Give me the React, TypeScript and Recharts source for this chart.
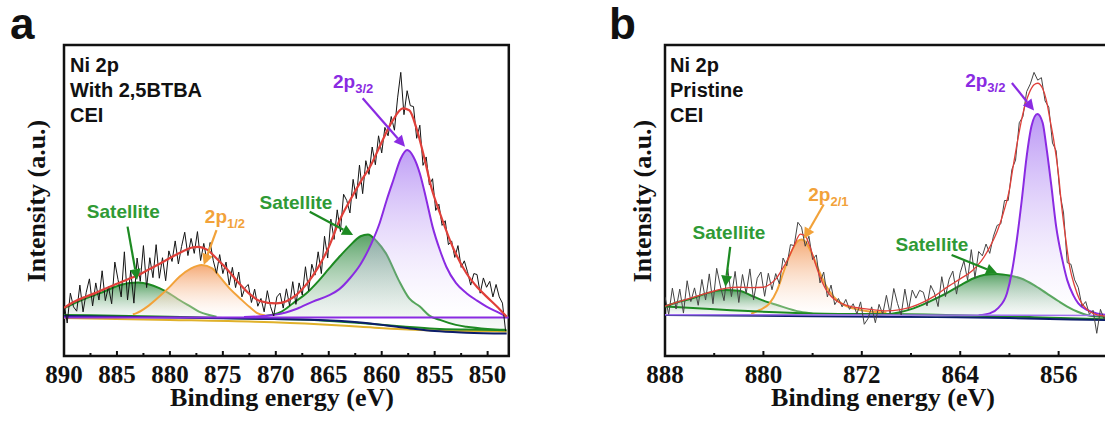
import React from "react";
import {
  ComposedChart,
  Line,
  Area,
  XAxis,
  YAxis,
  ReferenceLine,
  ReferenceDot,
  ReferenceArea,
} from "recharts";

const SANS = "'Liberation Sans', Arial, sans-serif";
const SERIF = "'Liberation Serif', 'Times New Roman', serif";
const RED = "#e0403a";
const PURPLE = "#8a2be2";
const GREEN = "#1d8a22";
const GREEN_TXT = "#2f9a35";
const ORANGE = "#f2a23a";
const NAVY = "#0c1d6b";
const YELLOW = "#e0b12a";

type Curve = [number, number][];

// ---------- panel a: with 2,5BTBA ----------
const rawAStart = 890;
const rawAStep = 0.3;
const rawAValues = [
  17, 10.6, 20.2, 15.8, 14.4, 22.8, 14.2, 20.5, 24.8, 16.1,
  23.5, 18, 27.4, 17.8, 22.3, 16.8, 30.2, 24.6, 19, 33.5,
  18, 27.5, 17, 31.5, 24, 35.5, 22, 31.6, 25.2, 35.8,
  25, 31.6, 24.2, 33.8, 30.4, 37, 29.6, 35.2, 39.8, 32.3,
  37.8, 33, 40, 30.7, 36.2, 30.5, 36.5, 30.6, 26.6, 32.6,
  26.5, 30.2, 22.8, 28.5, 22, 27, 19, 22, 23, 17.2,
  21.5, 16, 18.5, 14.2, 21, 15.9, 12.9, 19, 20.2, 15.4,
  21.6, 16.2, 23.9, 16.6, 23.5, 19.6, 28.7, 21, 29.5, 26,
  33.5, 26.5, 38.5, 31.5, 44, 37.5, 47, 40, 52, 50,
  46, 56.8, 50.6, 61.4, 52.2, 62.8, 58.4, 67.2, 61.5, 70.8,
  65.3, 73.5, 70.8, 77, 72.6, 83, 91.2, 77.6, 85.3, 80.5,
  80.2, 70, 74.2, 61.3, 64, 55, 57, 46.8, 48.8, 42,
  43.5, 35.8, 37, 31.7, 35.5, 28.5, 30.6, 27.1, 22.8, 26.5,
  26.2, 20.2, 25.1, 22.1, 24, 19, 23, 19, 17, 8,
];
const envelopeA: Curve = [
  [890, 15.5], [889, 17.5], [888, 19], [887, 20.3], [886, 21.8], [885, 23.2], [884, 24.6],
  [883, 26], [882, 27.8], [881, 29.6], [880, 31.5], [879, 33.3], [878, 34.8], [877.3, 35.1],
  [876.5, 34.2], [875.5, 31], [874.5, 27.5], [873.5, 23.5], [872.5, 20], [871.5, 17.7],
  [870, 16.9], [869, 17.6], [868, 19.8], [867, 23.5], [866, 28.5], [865, 35], [864, 43.5],
  [863, 50], [862, 56], [861, 61.5], [860.2, 67.3], [859, 75.5], [858, 79.6], [857.4, 79],
  [856.7, 73], [856, 64], [855.3, 54], [854.5, 45.9], [853.3, 35.1], [852, 26.6], [851, 22.2],
  [850.1, 19.1], [849, 15.5], [848.2, 12.6],
];
const p32A: Curve = [
  [873, 12.5], [870, 13.3], [868, 15.2], [866.5, 17.5], [865, 19.5], [864, 21.5], [863, 25],
  [862, 29.5], [861, 36], [860.2, 42.7], [859.5, 50.5], [858.9, 56.6], [858.2, 63.5],
  [857.6, 66.2], [857, 64], [856.4, 58.7], [855.8, 50.5], [855.2, 41.6], [854.5, 34],
  [853.9, 28.7], [853, 23.5], [852, 20.2], [851, 17.8], [850.1, 15.9], [849, 14], [848.3, 12.8],
];
const sat2A: Curve = [
  [871, 12.9], [869.5, 14.2], [868.4, 16.9], [867, 20.5], [865.9, 24.4], [865, 28], [864, 31.9],
  [863, 35.5], [862, 38.5], [861.3, 39.1], [860.5, 37], [859.6, 33], [858.4, 24.4],
  [857.4, 18.5], [856.4, 15.9], [855.5, 13], [854.5, 11.6], [853, 10], [852, 9.4], [850, 8.7],
  [848.3, 8.4],
];
const sat1A: Curve = [
  [890, 15.3], [889, 17], [888, 18.5], [886.6, 20.2], [885.5, 21.8], [884.7, 22.8], [883.8, 23.5],
  [883, 23.6], [882, 23.1], [881, 21.8], [880, 20], [879.1, 18], [878, 15.8], [877.2, 14.2],
  [876.3, 13.2], [875.6, 12.6],
];
const p12A: Curve = [
  [883.5, 13.4], [883.2, 13.7], [882, 16.2], [881, 19.1], [880, 22.3], [879.1, 25.5], [878, 28.2],
  [877, 29.3], [876, 28.2], [875.3, 25.5], [874.3, 21.5], [873.4, 18.6], [872.5, 15.8],
  [871.8, 13.9], [871, 13],
];
const flatA: Curve = [[890, 12.4], [848, 12.4]];
const navyA: Curve = [
  [890, 12.9], [880, 12.4], [872, 12], [866, 11.6], [862, 10.8], [858, 9.2], [855, 8],
  [852, 7.5], [848.2, 7.2],
];
const greenBaseA: Curve = [
  [890, 13.2], [880, 12.6], [872, 12], [866, 11.5], [862, 10.6], [858, 9.5], [855, 8.8],
  [852, 8.5], [848.2, 8.3],
];
const yellowBaseA: Curve = [
  [890, 12.2], [880, 11.6], [872, 11], [866, 10.2], [862, 9.4], [858, 8.6], [855, 8.2],
  [852, 8], [848.2, 7.9],
];
const majorsA = [890, 885, 880, 875, 870, 865, 860, 855, 850];
const minorsA = [887.5, 882.5, 877.5, 872.5, 867.5, 862.5, 857.5, 852.5];

// ---------- panel b: pristine ----------
const rawBStart = 888;
const rawBStep = 0.3;
const rawBValues = [
  19, 13.4, 21.8, 15.1, 21.5, 13.8, 24.2, 17.5, 21.9, 16.3,
  24.6, 18, 26.4, 16.8, 28.2, 22.5, 17.8, 28, 19.1, 27.2,
  17.2, 26.2, 20.1, 28, 18, 25, 27, 19.2, 26.6, 21.3,
  26.5, 23.2, 31.5, 29, 35.8, 35.5, 43, 41.4, 35.3, 38.5,
  31, 32.5, 23.5, 27, 19, 22.8, 16.5, 18.5, 15.8, 18.2,
  15, 16.8, 13.5, 17.4, 10.2, 12, 15.8, 10.7, 16.6, 13.5,
  19.5, 13.6, 21.7, 16.9, 13.2, 21.5, 14.8, 21.2, 18.6, 21.1,
  20.5, 16.1, 22.7, 20.3, 15.9, 25.5, 19.1, 24.7, 27.3, 19.9,
  26.8, 30.6, 24.4, 34.2, 25.2, 33.6, 32.2, 36, 33, 38.5,
  42, 42.5, 50, 50, 60, 63, 75, 77, 85, 87.5,
  91.2, 88.7, 89.5, 82, 80, 68.5, 66, 52.5, 46, 30,
  29.5, 24.5, 22, 16, 17.5, 13.4, 14.7, 7.3, 15, 11.8,
  13.8, 11, 14.6, 11.6, 13.5, 11.5,
];
const envelopeB: Curve = [
  [888, 16], [887, 17.3], [886, 18.5], [885, 19.7], [884, 20.9], [883, 21.8], [882, 22.1],
  [881, 22], [880, 22.1], [879.5, 23], [879, 24.7], [878.5, 27.7], [878, 31.2], [877.5, 35.5],
  [877, 39.2], [876.6, 38.6], [876.2, 35], [875.8, 30], [875.4, 25.5], [875, 22], [874.5, 19.2],
  [874, 17.6], [873, 16], [872, 15.3], [871, 14.8], [870, 14.5], [869, 14.8], [868, 15.7],
  [867, 17.3], [866, 19.5], [865, 22.3], [864, 24.8], [863, 27.5], [862.3, 30.5], [861.6, 35],
  [861, 40], [860.5, 45.9], [860, 53.5], [859.7, 60.9], [859.3, 70], [858.9, 78], [858.4, 84.5],
  [858, 87.2], [857.7, 87.7], [857.3, 86], [857, 82.3], [856.7, 76], [856.4, 69.5], [856, 58],
  [855.75, 48], [855.4, 37], [855.1, 28.7], [854.7, 22.5], [854.3, 18.2], [853.7, 15],
  [853.2, 13.7], [852.4, 12.9], [851, 12.6], [850, 12.5],
];
const p32B: Curve = [
  [862.5, 13.1], [861.6, 13.7], [860.9, 15.5], [860.2, 20.2], [859.8, 27], [859.4, 37.3],
  [859, 50], [858.6, 64.1], [858.2, 74], [857.73, 77.8], [857.3, 75], [857, 67.3], [856.6, 55],
  [856.2, 41.6], [855.7, 31], [855.3, 24.4], [854.8, 19.5], [854.4, 16.9], [853.7, 14.8],
  [852.9, 13.7], [852, 13.2], [850, 13],
];
const sat2B: Curve = [
  [871.5, 13.1], [870.5, 13.2], [869, 14], [867.8, 15.3], [866.5, 17.5], [865.1, 20.2],
  [864, 22.7], [862.9, 25], [862, 26.1], [861, 26.4], [860, 25.9], [859.1, 25], [858, 22.8],
  [857, 20.2], [856, 17.6], [855.3, 15.9], [854.5, 14.3], [853.7, 13.2], [852.4, 12.6],
  [850, 12.4],
];
const sat1B: Curve = [
  [888, 15.9], [887, 17.3], [885.7, 18.6], [884.5, 20.3], [883.5, 21.1], [883, 21.2],
  [882, 21], [880.8, 19.1], [880, 17.8], [878.9, 16.4], [877, 14.2], [876, 13.6],
];
const p21B: Curve = [
  [881, 13.6], [880.3, 14.8], [879.5, 16.9], [878.9, 21], [878.4, 26.6], [877.9, 32],
  [877.6, 34.6], [877.2, 37], [876.9, 37.5], [876.6, 36.8], [876.2, 34.1], [875.8, 30.5],
  [875.4, 26.6], [874.9, 22.5], [874.3, 19.1], [873.5, 16.5], [872.7, 15.3], [871.5, 14.4],
  [870, 14],
];
const flatB: Curve = [[888, 13.3], [850, 13.0]];
const navyB: Curve = [[888, 13.2], [876, 12.8], [866, 12.5], [860, 12.2], [855, 11.7], [850, 11.5]];
const greenBaseB: Curve = [[888, 15.9], [876, 13.7], [866, 13.3], [858, 12.5], [850, 11.5]];
const majorsB = [888, 880, 872, 864, 856];
const minorsB = [884, 876, 868, 860];

// annotations (binding energy, intensity)
const labelsA = [
  { text: "Satellite", e: 884.4, v: 44.4, color: GREEN_TXT },
  { text: "2p", sub: "1/2", e: 876.7, v: 42.7, color: ORANGE },
  { text: "Satellite", e: 868.1, v: 47.2, color: GREEN_TXT },
  { text: "2p", sub: "3/2", e: 864.6, v: 86.1, color: PURPLE },
];
const arrowsA = [
  { from: [884.0, 41.6], to: [883.1, 24.4], color: GREEN },
  { from: [875.6, 40.5], to: [876.8, 29.3], color: ORANGE },
  { from: [866.8, 46.4], to: [862.7, 38.9], color: GREEN },
  { from: [861.8, 82.9], to: [857.8, 67.3], color: PURPLE },
];
const labelsB = [
  { text: "Satellite", e: 882.8, v: 37.5, color: GREEN_TXT },
  { text: "2p", sub: "2/1", e: 876.35, v: 49.8, color: ORANGE },
  { text: "Satellite", e: 866.3, v: 33.9, color: GREEN_TXT },
  { text: "2p", sub: "3/2", e: 863.6, v: 86.6, color: PURPLE },
];
const arrowsB = [
  { from: [882.7, 35.1], to: [883.1, 22.3], color: GREEN },
  { from: [875.1, 48.7], to: [876.7, 37.7], color: ORANGE },
  { from: [864.7, 32.5], to: [861.0, 26.6], color: GREEN },
  { from: [859.8, 87.8], to: [858.0, 78.9], color: PURPLE },
];

const pts = (c: Curve) => c.map(([e, v]) => ({ e, v }));
const rawPts = (start: number, step: number, vals: number[]) =>
  vals.map((v, i) => ({ e: +(start - i * step).toFixed(2), v }));

const tickFont = { fontFamily: SERIF, fontWeight: 700, fontSize: 25 };

function XTick(props: any) {
  const { x, y, payload, majors } = props;
  const major = majors.includes(payload.value);
  return (
    <g>
      <line x1={x} y1={y} x2={x} y2={y - (major ? 5 : 3)} stroke="#111" strokeWidth={2} />
      {major && (
        <text x={x} y={y + 27} textAnchor="middle" fill="#111" style={tickFont}>
          {payload.value}
        </text>
      )}
    </g>
  );
}

const arrowShape = (color: string) => (p: any) => {
  const { x1, y1, x2, y2 } = p;
  const a = Math.atan2(y2 - y1, x2 - x1);
  const c = Math.cos(a);
  const s = Math.sin(a);
  const bx = x2 - 11 * c;
  const by = y2 - 11 * s;
  return (
    <g>
      <line x1={x1} y1={y1} x2={bx} y2={by} stroke={color} strokeWidth={2.2} />
      <polygon points={`${x2},${y2} ${bx + 5.5 * s},${by - 5.5 * c} ${bx - 5.5 * s},${by + 5.5 * c}`} fill={color} />
    </g>
  );
};

const labelShape = (lb: any) => (p: any) => (
  <text
    x={p.cx}
    y={p.cy}
    textAnchor={lb.sub ? "start" : "middle"}
    fill={lb.color}
    style={{ fontFamily: SANS, fontWeight: 700, fontSize: 19 }}
  >
    {lb.text}
    {lb.sub && (
      <tspan fontSize={13} dy={5}>
        {lb.sub}
      </tspan>
    )}
  </text>
);

function Panel(props: any) {
  const { id, width, margin, domain, majors, minors, raw, rawColor, redWidth, areas, lines, labels, arrows, box } = props;
  return (
    <ComposedChart width={width} height={423} margin={margin}>
      <defs>
        <linearGradient id={`pur-${id}`} x1="0" y1="0" x2="0" y2="1">
          <stop offset="0%" stopColor="#9a66f0" stopOpacity={0.85} />
          <stop offset="100%" stopColor="#ffffff" stopOpacity={0.3} />
        </linearGradient>
        <linearGradient id={`grn-${id}`} x1="0" y1="0" x2="0" y2="1">
          <stop offset="0%" stopColor="#2e8b3e" stopOpacity={0.8} />
          <stop offset="100%" stopColor="#eef2f2" stopOpacity={0.35} />
        </linearGradient>
        <linearGradient id={`org-${id}`} x1="0" y1="0" x2="0" y2="1">
          <stop offset="0%" stopColor="#f39a5c" stopOpacity={0.85} />
          <stop offset="100%" stopColor="#ffffff" stopOpacity={0.3} />
        </linearGradient>
      </defs>
      <XAxis
        dataKey="e"
        type="number"
        domain={domain}
        reversed
        allowDataOverflow
        ticks={[...majors, ...minors]}
        interval={0}
        tick={(p: any) => <XTick {...p} majors={majors} />}
        tickLine={false}
        axisLine={false}
        tickSize={0}
        tickMargin={0}
        height={40}
      />
      <YAxis type="number" domain={[0, 100]} hide allowDataOverflow />
      {areas.map((a: any, i: number) => (
        <Area
          key={`a${i}`}
          data={pts(a.data)}
          dataKey="v"
          type="monotone"
          baseValue={a.base}
          stroke={a.color}
          strokeWidth={2}
          fill={`url(#${a.grad}-${id})`}
          fillOpacity={a.opacity ?? 1}
          dot={false}
          activeDot={false}
          isAnimationActive={false}
        />
      ))}
      {lines.map((l: any, i: number) => (
        <Line
          key={`l${i}`}
          data={pts(l.data)}
          dataKey="v"
          type="monotone"
          stroke={l.color}
          strokeWidth={l.width ?? 2}
          dot={false}
          activeDot={false}
          isAnimationActive={false}
        />
      ))}
      <Line
        data={raw}
        dataKey="v"
        type="linear"
        stroke={rawColor}
        strokeWidth={1}
        dot={false}
        activeDot={false}
        isAnimationActive={false}
      />
      <Line
        data={pts(props.envelope)}
        dataKey="v"
        type="monotone"
        stroke={RED}
        strokeWidth={redWidth}
        dot={false}
        activeDot={false}
        isAnimationActive={false}
      />
      {arrows.map((ar: any, i: number) => (
        <ReferenceLine
          key={`r${i}`}
          segment={[{ x: ar.from[0], y: ar.from[1] }, { x: ar.to[0], y: ar.to[1] }]}
          shape={arrowShape(ar.color)}
          ifOverflow="visible"
        />
      ))}
      {labels.map((lb: any, i: number) => (
        <ReferenceDot key={`t${i}`} x={lb.e} y={lb.v} r={0} ifOverflow="visible" shape={labelShape(lb)} />
      ))}
      <ReferenceArea
        x1={box[0]}
        x2={box[1]}
        y1={0}
        y2={100}
        fill="none"
        fillOpacity={0}
        stroke="#111"
        strokeWidth={2.5}
        ifOverflow="visible"
      />
    </ComposedChart>
  );
}

export default function App() {
  const txt = { fontFamily: SANS, fontWeight: 700, fill: "#111" };
  const serif = { fontFamily: SERIF, fontWeight: 700, fontSize: 26 };
  return (
    <div style={{ position: "absolute", left: 0, top: 0, width: 1105, height: 423, overflow: "hidden", background: "#fff" }}>
      <div style={{ position: "absolute", left: 0, top: 0 }}>
        <Panel
          id="a"
          width={560}
          margin={{ top: 45, right: 51.2, bottom: 27, left: 64 }}
          domain={[848, 890]}
          box={[890, 848]}
          majors={majorsA}
          minors={minorsA}
          raw={rawPts(rawAStart, rawAStep, rawAValues)}
          rawColor="#151515"
          redWidth={2.2}
          envelope={envelopeA}
          areas={[
            { data: sat1A, color: GREEN, grad: "grn", base: 12.4 },
            { data: p12A, color: ORANGE, grad: "org", base: 12.4 },
            { data: sat2A, color: GREEN, grad: "grn", base: 12.4 },
            { data: p32A, color: PURPLE, grad: "pur", base: 12.4, opacity: 0.75 },
          ]}
          lines={[
            { data: yellowBaseA, color: YELLOW, width: 2 },
            { data: greenBaseA, color: GREEN, width: 2 },
            { data: navyA, color: NAVY, width: 2 },
            { data: flatA, color: PURPLE, width: 2 },
          ]}
          labels={labelsA}
          arrows={arrowsA}
        />
      </div>
      <div style={{ position: "absolute", left: 560, top: 0 }}>
        <Panel
          id="b"
          width={560}
          margin={{ top: 45, right: 13.4, bottom: 27, left: 105 }}
          domain={[852.1, 888]}
          box={[888, 852.1]}
          majors={majorsB}
          minors={minorsB}
          raw={rawPts(rawBStart, rawBStep, rawBValues)}
          rawColor="#444"
          redWidth={1.3}
          envelope={envelopeB}
          areas={[
            { data: sat1B, color: GREEN, grad: "grn", base: 13.2 },
            { data: p21B, color: ORANGE, grad: "org", base: 13.2 },
            { data: sat2B, color: GREEN, grad: "grn", base: 13.2 },
            { data: p32B, color: PURPLE, grad: "pur", base: 13.2, opacity: 0.8 },
          ]}
          lines={[
            { data: greenBaseB, color: GREEN, width: 2 },
            { data: navyB, color: NAVY, width: 2 },
            { data: flatB, color: "#a070f0", width: 1.5 },
          ]}
          labels={labelsB}
          arrows={arrowsB}
        />
      </div>
      <svg width={1105} height={423} style={{ position: "absolute", left: 0, top: 0, pointerEvents: "none" }}>
        <text x={10} y={39} fill="#111" style={{ ...txt, fontSize: 44 }}>a</text>
        <text x={609} y={39} fill="#111" style={{ ...txt, fontSize: 44 }}>b</text>
        {["Ni 2p", "With 2,5BTBA", "CEI"].map((t, i) => (
          <text key={t} x={70} y={72 + 25 * i} fill="#111" style={{ ...txt, fontSize: 20 }}>{t}</text>
        ))}
        {["Ni 2p", "Pristine", "CEI"].map((t, i) => (
          <text key={t} x={670} y={72 + 25 * i} fill="#111" style={{ ...txt, fontSize: 20 }}>{t}</text>
        ))}
        <text transform="translate(45,201) rotate(-90)" textAnchor="middle" fill="#111" style={serif}>Intensity (a.u.)</text>
        <text transform="translate(651,201) rotate(-90)" textAnchor="middle" fill="#111" style={serif}>Intensity (a.u.)</text>
        <text x={282} y={406} textAnchor="middle" fill="#111" style={serif}>Binding energy (eV)</text>
        <text x={883} y={406} textAnchor="middle" fill="#111" style={serif}>Binding energy (eV)</text>
      </svg>
    </div>
  );
}
